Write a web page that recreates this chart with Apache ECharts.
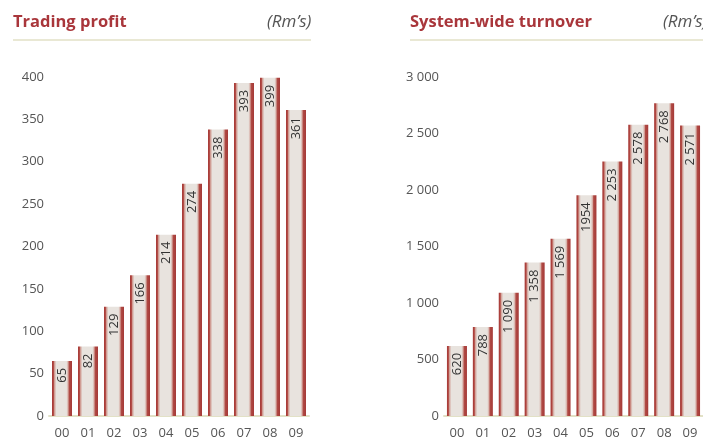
<!DOCTYPE html>
<html>
<head>
<meta charset="utf-8">
<script src="https://cdn.jsdelivr.net/npm/echarts@6/dist/echarts.min.js"></script>
<style>
html,body{margin:0;padding:0;background:#fff;}
#c{width:703px;height:441px;}
</style>
</head>
<body>
<div id="c"></div>
<script>
const years = ['00','01','02','03','04','05','06','07','08','09'];
const tradingProfit = [65, 82, 129, 166, 214, 274, 338, 393, 399, 361];
const turnover = [620, 788, 1090, 1358, 1569, 1954, 2253, 2578, 2768, 2571];
const turnoverLabels = ['620','788','1 090','1 358','1 569','1954','2 253','2 578','2 768','2 571'];

const FONT = 'Open Sans';
const RED = '#a9363b';
const OLIVE = '#e2e1c6';

function fmtSpace(v){ return String(v).replace(/\B(?=(\d{3})+(?!\d))/g, ' '); }

const barGradient = new echarts.graphic.LinearGradient(0, 0, 1, 0, [
  {offset: 0, color: '#a53937'},
  {offset: 0.07, color: '#b0453f'},
  {offset: 0.13, color: '#d3a59c'},
  {offset: 0.22, color: '#e8e3de'},
  {offset: 0.72, color: '#e8e3de'},
  {offset: 0.8, color: '#d9b2aa'},
  {offset: 0.86, color: '#b04a44'},
  {offset: 1, color: '#a53937'}
]);

function barSeries(idx, data, labelFn){
  return {
    type: 'bar',
    xAxisIndex: idx, yAxisIndex: idx,
    data: data,
    barWidth: 20,
    itemStyle: { color: barGradient },
    label: {
      show: true,
      position: 'insideTop',
      rotate: 90,
      align: 'right',
      verticalAlign: 'middle',
      distance: 7,
      color: '#333',
      fontFamily: FONT,
      fontSize: 13,
      formatter: labelFn
    },
    silent: true,
    animation: false
  };
}

function xAx(idx){
  return {
    type: 'category', gridIndex: idx, data: years,
    axisLine: {show: true, lineStyle: {color: OLIVE, width: 2}},
    axisTick: {show: false},
    axisLabel: {color: '#555', fontFamily: FONT, fontSize: 13, margin: 11}
  };
}
function yAx(idx, max, interval, fmt){
  return {
    type: 'value', gridIndex: idx, min: 0, max: max, interval: interval,
    axisLine: {show: false}, axisTick: {show: false}, splitLine: {show: false},
    axisLabel: {color: '#555', fontFamily: FONT, fontSize: 13, margin: 5, formatter: fmt}
  };
}

const chart = echarts.init(document.getElementById('c'), null, {renderer: 'canvas'});
chart.setOption({
  animation: false,
  title: [
    {text: 'Trading profit', left: 13, top: 14, padding: 0, textStyle: {color: RED, fontFamily: FONT, fontWeight: 'bold', fontSize: 16.5}},
    {text: '(Rm\u2019s)', left: 267, top: 14, padding: 0, textStyle: {color: '#555', fontFamily: FONT, fontStyle: 'italic', fontWeight: 'normal', fontSize: 17}},
    {text: 'System-wide turnover', left: 410, top: 14, padding: 0, textStyle: {color: RED, fontFamily: FONT, fontWeight: 'bold', fontSize: 16.5}},
    {text: '(Rm\u2019s)', left: 663, top: 14, padding: 0, textStyle: {color: '#555', fontFamily: FONT, fontStyle: 'italic', fontWeight: 'normal', fontSize: 17}}
  ],
  graphic: [
    {type: 'line', shape: {x1: 13, y1: 40, x2: 311, y2: 40}, style: {stroke: OLIVE, lineWidth: 1.5}},
    {type: 'line', shape: {x1: 410, y1: 40, x2: 703, y2: 40}, style: {stroke: OLIVE, lineWidth: 1.5}}
  ],
  grid: [
    {left: 49, top: 77, width: 260, height: 339},
    {left: 444, top: 77, width: 260, height: 339}
  ],
  xAxis: [xAx(0), xAx(1)],
  yAxis: [yAx(0, 400, 50, v => String(v)), yAx(1, 3000, 500, v => fmtSpace(v))],
  series: [
    barSeries(0, tradingProfit, p => String(p.value)),
    barSeries(1, turnover, p => turnoverLabels[p.dataIndex])
  ]
});
</script>
</body>
</html>
